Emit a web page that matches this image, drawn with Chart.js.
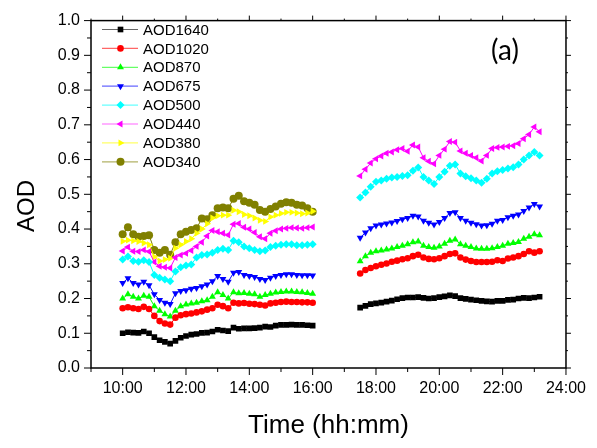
<!DOCTYPE html>
<html>
<head>
<meta charset="utf-8">
<script src="https://cdn.jsdelivr.net/npm/chart.js@4.4.1/dist/chart.umd.min.js"></script>
<style>
  body { margin: 0; background: #fff; }
  canvas { display: block; }
</style>
</head>
<body>
<canvas id="chart" width="597" height="448"></canvas>
<script>
// morning segment, 10:00 - 16:00
const seg1Times = ['10:00','10:10','10:20','10:30','10:40','10:50','11:00','11:10','11:20','11:30','11:40','11:50',
  '12:00','12:10','12:20','12:30','12:40','12:50','13:00','13:10','13:20','13:30','13:40','13:50',
  '14:00','14:10','14:20','14:30','14:40','14:50','15:00','15:10','15:20','15:30','15:40','15:50','16:00'];
// evening segment, 17:30 - 23:10
const seg2Times = ['17:30','17:40','17:50','18:00','18:10','18:20','18:30','18:40','18:50','19:00','19:10','19:20',
  '19:30','19:40','19:50','20:00','20:10','20:20','20:30','20:40','20:50','21:00','21:10','21:20',
  '21:30','21:40','21:50','22:00','22:10','22:20','22:30','22:40','22:50','23:00','23:10'];

const aod1640a = [0.100,0.103,0.102,0.101,0.105,0.100,0.089,0.080,0.075,0.070,0.078,0.087,0.092,0.096,0.098,0.101,0.102,0.105,0.110,0.108,0.106,0.116,0.113,0.114,0.114,0.115,0.116,0.119,0.118,0.122,0.124,0.124,0.125,0.124,0.124,0.123,0.122];
const aod1020a = [0.172,0.175,0.172,0.170,0.176,0.170,0.150,0.135,0.128,0.125,0.145,0.152,0.155,0.157,0.160,0.163,0.168,0.172,0.182,0.178,0.172,0.188,0.186,0.187,0.185,0.184,0.182,0.180,0.186,0.188,0.190,0.191,0.190,0.190,0.189,0.189,0.188];
const aod870a = [0.200,0.212,0.205,0.200,0.208,0.205,0.178,0.165,0.155,0.148,0.165,0.178,0.183,0.186,0.188,0.192,0.195,0.205,0.218,0.210,0.200,0.218,0.215,0.216,0.214,0.212,0.205,0.210,0.214,0.217,0.219,0.220,0.220,0.219,0.218,0.216,0.214];
const aod675a = [0.245,0.258,0.245,0.240,0.248,0.238,0.212,0.196,0.188,0.184,0.215,0.222,0.224,0.228,0.230,0.235,0.240,0.250,0.265,0.256,0.248,0.274,0.276,0.268,0.265,0.262,0.256,0.253,0.260,0.265,0.268,0.270,0.270,0.268,0.267,0.267,0.266];
const aod500a = [0.312,0.321,0.308,0.306,0.310,0.305,0.268,0.260,0.255,0.250,0.278,0.290,0.295,0.298,0.318,0.325,0.327,0.332,0.340,0.343,0.340,0.366,0.362,0.350,0.345,0.340,0.336,0.338,0.348,0.352,0.355,0.356,0.356,0.353,0.353,0.355,0.356];
const aod440a = [0.337,0.348,0.336,0.335,0.340,0.335,0.305,0.293,0.290,0.288,0.318,0.325,0.330,0.338,0.350,0.362,0.380,0.396,0.392,0.388,0.383,0.414,0.416,0.405,0.400,0.390,0.378,0.372,0.388,0.395,0.400,0.402,0.404,0.403,0.402,0.404,0.406];
const aod380a = [0.365,0.368,0.366,0.364,0.360,0.355,0.320,0.308,0.312,0.316,0.345,0.355,0.364,0.372,0.388,0.400,0.415,0.432,0.438,0.440,0.440,0.454,0.450,0.442,0.438,0.432,0.425,0.422,0.435,0.440,0.445,0.448,0.448,0.446,0.444,0.446,0.451];
const aod340a = [0.385,0.405,0.385,0.378,0.380,0.382,0.340,0.332,0.340,0.326,0.362,0.385,0.392,0.397,0.402,0.430,0.428,0.440,0.460,0.462,0.460,0.487,0.496,0.480,0.476,0.470,0.455,0.450,0.458,0.465,0.473,0.477,0.476,0.470,0.468,0.460,0.450];

const aod1640b = [0.174,0.179,0.184,0.186,0.188,0.191,0.194,0.198,0.201,0.203,0.203,0.204,0.202,0.200,0.201,0.204,0.206,0.209,0.207,0.201,0.199,0.197,0.195,0.193,0.192,0.191,0.193,0.193,0.196,0.197,0.200,0.202,0.201,0.203,0.205];
const aod1020b = [0.272,0.282,0.288,0.293,0.297,0.301,0.306,0.309,0.313,0.316,0.322,0.326,0.318,0.314,0.313,0.316,0.322,0.328,0.330,0.318,0.312,0.308,0.305,0.305,0.305,0.306,0.310,0.308,0.315,0.318,0.322,0.328,0.336,0.332,0.336];
const aod870b = [0.307,0.322,0.332,0.336,0.338,0.341,0.344,0.348,0.352,0.356,0.362,0.364,0.352,0.348,0.346,0.350,0.358,0.366,0.370,0.356,0.352,0.348,0.344,0.343,0.343,0.345,0.348,0.352,0.358,0.360,0.363,0.372,0.378,0.385,0.382];
const aod675b = [0.375,0.390,0.402,0.410,0.413,0.416,0.419,0.423,0.428,0.432,0.438,0.436,0.424,0.418,0.413,0.420,0.432,0.446,0.448,0.432,0.424,0.418,0.414,0.410,0.411,0.415,0.424,0.426,0.434,0.438,0.442,0.452,0.462,0.472,0.465];
const aod500b = [0.491,0.505,0.522,0.536,0.540,0.545,0.548,0.550,0.553,0.555,0.568,0.577,0.550,0.540,0.530,0.550,0.565,0.582,0.586,0.560,0.552,0.546,0.540,0.533,0.545,0.560,0.566,0.570,0.574,0.578,0.586,0.600,0.612,0.622,0.612];
const aod440b = [0.553,0.572,0.590,0.602,0.610,0.618,0.622,0.628,0.632,0.624,0.642,0.636,0.605,0.595,0.588,0.612,0.630,0.652,0.650,0.625,0.618,0.612,0.605,0.596,0.612,0.632,0.635,0.636,0.638,0.640,0.646,0.660,0.672,0.694,0.680];

const seriesNames = ['AOD1640','AOD1020','AOD870','AOD675','AOD500','AOD440','AOD380','AOD340'];
const seriesColors = ['#000000','#ff0000','#00ff00','#0000ff','#00ffff','#ff00ff','#ffff00','#808000'];
const seriesMarkers = ['rect','circle','triangle','triangle','rectRot','triangle','triangle','circle'];
const seriesRotation = [0,0,0,180,0,270,90,0];
const seriesRadius = [4,3.3,4,4,4,4,4,4];
const morning = [aod1640a,aod1020a,aod870a,aod675a,aod500a,aod440a,aod380a,aod340a];
const evening = [aod1640b,aod1020b,aod870b,aod675b,aod500b,aod440b,null,null];

const FONT = "'Liberation Sans', Arial, sans-serif";

function toHours(t) {
  const p = t.split(':').map(Number);
  return p[0] + p[1] / 60;
}

const datasets = seriesNames.map((name, i) => {
  const pts = seg1Times.map((t, j) => ({ x: toHours(t), y: morning[i][j] }));
  if (evening[i]) {
    seg2Times.forEach((t, j) => pts.push({ x: toHours(t), y: evening[i][j] }));
  }
  return {
    label: name,
    data: pts,
    borderColor: seriesColors[i],
    backgroundColor: seriesColors[i],
    borderWidth: 1,
    pointStyle: seriesMarkers[i],
    pointRotation: seriesRotation[i],
    pointRadius: seriesRadius[i],
    pointBorderWidth: 0,
    pointBackgroundColor: seriesColors[i],
    spanGaps: 0.5,
    tension: 0
  };
});

// frame, tick marks, titles and legend
const decorations = {
  id: 'decorations',
  afterDraw(chart) {
    const ctx = chart.ctx;
    const a = chart.chartArea;
    const xs = chart.scales.x, ys = chart.scales.y;
    ctx.save();
    ctx.strokeStyle = '#000';
    ctx.lineWidth = 1.5;
    ctx.strokeRect(a.left, a.top, a.right - a.left, a.bottom - a.top);

    ctx.lineWidth = 1;
    ctx.beginPath();
    for (let h = 9; h <= 24; h++) {
      const px = xs.getPixelForValue(h);
      const len = h % 2 === 0 ? 7 : 4;
      ctx.moveTo(px, a.bottom); ctx.lineTo(px, a.bottom + len);
      ctx.moveTo(px, a.top); ctx.lineTo(px, a.top - len + 2);
    }
    for (let k = 0; k <= 20; k++) {
      const py = ys.getPixelForValue(k * 0.05);
      const len = k % 2 === 0 ? 7 : 4;
      ctx.moveTo(a.left, py); ctx.lineTo(a.left - len, py);
      ctx.moveTo(a.right, py); ctx.lineTo(a.right + len - 2, py);
    }
    ctx.stroke();

    // axis titles
    ctx.fillStyle = '#000';
    ctx.textAlign = 'center';
    ctx.textBaseline = 'alphabetic';
    ctx.font = '26px ' + FONT;
    ctx.fillText('Time (hh:mm)', (a.left + a.right) / 2, 433);
    ctx.save();
    ctx.translate(34, 206);
    ctx.rotate(-Math.PI / 2);
    ctx.font = '24px ' + FONT;
    ctx.fillText('AOD', 0, 0);
    ctx.restore();

    ctx.font = "28px Lato, 'Open Sans', sans-serif";
    ctx.fillText('(a)', 505, 60);

    // legend
    ctx.textAlign = 'left';
    ctx.textBaseline = 'middle';
    ctx.font = '15px ' + FONT;
    seriesNames.forEach((name, i) => {
      const y = 29.5 + i * 18.9;
      ctx.globalAlpha = 0.6;
      ctx.strokeStyle = seriesColors[i];
      ctx.lineWidth = 1.2;
      ctx.beginPath();
      ctx.moveTo(102, y); ctx.lineTo(138, y);
      ctx.stroke();
      ctx.globalAlpha = 1;
      ctx.fillStyle = seriesColors[i];
      Chart.helpers.drawPoint(ctx, {
        pointStyle: seriesMarkers[i],
        rotation: seriesRotation[i],
        radius: seriesRadius[i],
        borderWidth: 0
      }, 120.5, y);
      ctx.fillStyle = '#000';
      ctx.fillText(name, 143, y + 1);
    });
    ctx.restore();
  }
};

new Chart(document.getElementById('chart'), {
  type: 'line',
  data: { datasets: datasets },
  options: {
    responsive: false,
    animation: false,
    devicePixelRatio: 1,
    layout: { padding: { left: 0, top: 16, right: 29, bottom: 0 } },
    plugins: { legend: { display: false }, tooltip: { enabled: false } },
    scales: {
      x: {
        type: 'linear',
        min: 9,
        max: 24,
        grid: { display: false, drawTicks: false },
        border: { display: false },
        ticks: {
          stepSize: 1,
          autoSkip: false,
          maxRotation: 0,
          padding: 11,
          color: '#000',
          font: { family: FONT, size: 16 },
          callback: v => (v % 2 === 0 && v > 9) ? v + ':00' : ''
        },
        afterFit: s => { s.height = 80; }
      },
      y: {
        min: 0,
        max: 1,
        grid: { display: false, drawTicks: false },
        border: { display: false },
        ticks: {
          stepSize: 0.1,
          padding: 11,
          color: '#000',
          font: { family: FONT, size: 16 },
          callback: v => v.toFixed(1)
        },
        afterFit: s => { s.width = 91; }
      }
    }
  },
  plugins: [decorations]
});
</script>
</body>
</html>
